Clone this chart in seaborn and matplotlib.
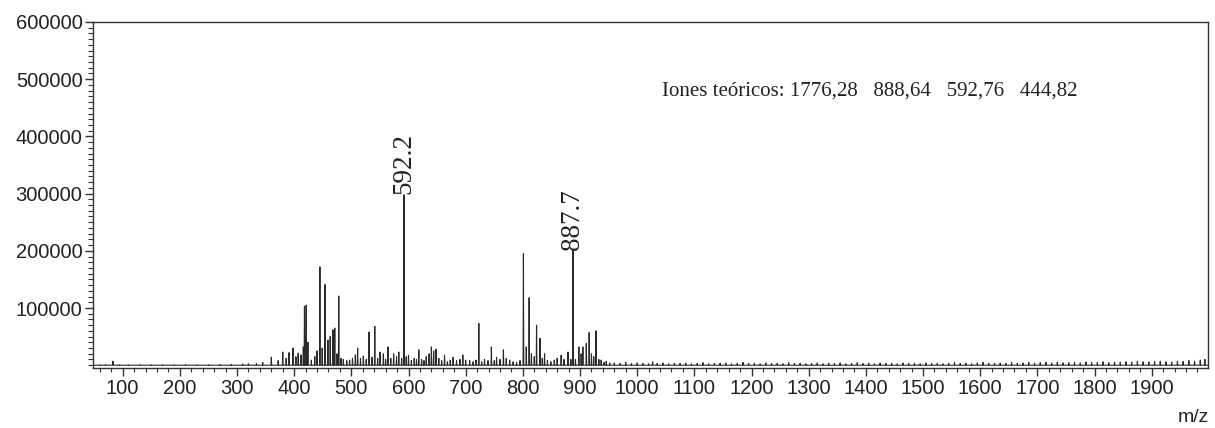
import numpy as np
import pandas as pd
import matplotlib
matplotlib.use("Agg")
import matplotlib.pyplot as plt
import seaborn as sns
from matplotlib.ticker import MultipleLocator

# ---- data (m/z, intensity) ----
peak_mz = [83, 334, 345, 360, 372, 380, 386, 391, 398, 403, 407, 412, 416, 418, 421,
           424, 430, 436, 440, 445, 449, 454, 459, 463, 468, 471, 475, 478, 482, 486,
           492, 497, 502, 507, 511, 516, 521, 526, 531, 536, 541, 546, 550, 556, 560,
           564, 569, 574, 579, 583, 588, 592.2, 596, 600, 605, 610, 614, 618, 623, 627,
           631, 636, 640, 644, 648, 653, 658, 663, 668, 673, 678, 684, 690, 695, 700,
           707, 713, 718, 723, 728, 733, 739, 745, 750, 754, 760, 766, 771, 777, 783,
           789, 795, 801, 806, 811, 815, 820, 824, 830, 834, 838, 843, 849, 855, 860,
           867, 872, 879, 884, 887.7, 892, 898, 902, 905, 911, 916, 920, 924, 928, 933,
           937, 942, 946, 952]
peak_int = [7000, 3000, 5000, 14000, 8000, 23000, 12000, 22000, 30000, 15000, 21000, 18000, 32000, 103000, 105000,
            40000, 9000, 15000, 25000, 172000, 30000, 141000, 44000, 50000, 62000, 65000, 20000, 121000, 12000, 10000,
            8000, 9000, 12000, 18000, 30000, 12000, 16000, 10000, 58000, 14000, 68000, 12000, 23000, 20000, 10000,
            32000, 12000, 20000, 15000, 23000, 12000, 298000, 15000, 17500, 8000, 12000, 10000, 27000, 10000, 8000,
            15000, 20000, 32000, 25000, 28000, 12000, 8000, 17500, 6000, 9000, 14000, 8000, 10000, 18000, 9000,
            8000, 6000, 9000, 73000, 6000, 10000, 8000, 32000, 8000, 14000, 10000, 27000, 12000, 9000, 6000,
            5000, 8000, 195000, 32000, 118000, 20000, 15000, 70000, 47000, 12000, 20000, 8000, 6000, 9000, 12000,
            17500, 10000, 23000, 10000, 200000, 10000, 32000, 20000, 32000, 38000, 57000, 20000, 15000, 60000, 10000,
            9000, 5000, 7000, 4000]

low_mz = [60, 70, 95, 110, 130, 150, 170, 190, 210, 230, 250, 270, 290, 310, 320]
low_int = [800, 1000, 1000, 800, 1000, 800, 1000, 800, 1000, 800, 1000, 1200, 1500, 2000, 2500]

noise_mz = [960, 970, 980, 990, 1000, 1010, 1020, 1027, 1035, 1045, 1055, 1065, 1075, 1085, 1095,
            1105, 1115, 1125, 1135, 1145, 1155, 1165, 1175, 1185, 1195, 1205, 1215, 1225, 1235, 1245,
            1255, 1265, 1275, 1285, 1295, 1305, 1315, 1325, 1335, 1345, 1355, 1365, 1375, 1385, 1395,
            1405, 1415, 1425, 1435, 1445, 1455, 1465, 1475, 1485, 1495, 1505, 1515, 1525, 1535, 1545,
            1555, 1565, 1575, 1585, 1595, 1605, 1615, 1625, 1635, 1645, 1655, 1665, 1675, 1685, 1695,
            1705, 1715, 1725, 1735, 1745, 1755, 1765, 1775, 1785, 1795, 1805, 1815, 1825, 1835, 1845,
            1855, 1865, 1875, 1885, 1895, 1905, 1915, 1925, 1935, 1945, 1955, 1965, 1975, 1985, 1993]
noise_int = [4000, 3000, 5000, 3000, 4000, 3000, 2500, 6000, 3000, 4000, 2500, 3500, 3000, 4000, 2500,
             3000, 4500, 2500, 3000, 3500, 4000, 2500, 3000, 5000, 3000, 3500, 2500, 4000, 3000, 3500,
             2500, 4500, 3000, 3500, 2500, 3000, 4000, 2500, 3500, 3000, 4000, 2500, 3000, 4500, 3000,
             3500, 2500, 4000, 3000, 3500, 2500, 4000, 3000, 3500, 2500, 4000, 3000, 3500, 2500, 3000,
             4500, 3000, 3500, 2500, 4000, 5000, 3000, 3500, 4000, 3000, 4500, 3500, 4000, 5000, 3500,
             4500, 5000, 4000, 5500, 4000, 4500, 5000, 4000, 5500, 4500, 5000, 6000, 4500, 5500, 5000,
             6000, 5500, 7000, 6000, 5500, 6500, 7000, 6000, 5500, 7000, 6500, 8000, 7000, 9000, 10000]

labels_mz = [592.2, 887.7]
labels_int = [298000, 200000]
label_texts = ["592.2", "887.7"]

x_ticks = [100, 200, 300, 400, 500, 600, 700, 800, 900, 1000, 1100, 1200, 1300, 1400,
           1500, 1600, 1700, 1800, 1900]
y_ticks = [100000, 200000, 300000, 400000, 500000, 600000]
annotation = "Iones teóricos: 1776,28   888,64   592,76   444,82"

# ---- build stick profile ----
all_mz = np.array(low_mz + peak_mz + noise_mz, dtype=float)
all_int = np.array(low_int + peak_int + noise_int, dtype=float)
order = np.argsort(all_mz)
all_mz, all_int = all_mz[order], all_int[order]
w = 0.6
xs, ys = [48.0], [0.0]
for m, h in zip(all_mz, all_int):
    xs += [m - w, m, m + w]
    ys += [0.0, h, 0.0]
xs.append(1998.0)
ys.append(0.0)
df = pd.DataFrame({"mz": xs, "intensity": ys})

sns.set_theme(style="white")
plt.rcParams["font.family"] = ["Liberation Sans", "DejaVu Sans"]

fig = plt.figure(figsize=(12.15, 4.28), dpi=100)
ax = fig.add_axes([0.0765, 0.14, 0.9175, 0.8086])

sns.lineplot(data=df, x="mz", y="intensity", sort=False, estimator=None,
             color="#2a2a2a", linewidth=0.8, ax=ax)

ax.set_xlim(48, 1998)
ax.set_ylim(-5000, 600000)
ax.set_xticks(x_ticks)
ax.set_xticklabels([str(t) for t in x_ticks])
ax.set_yticks(y_ticks)
ax.set_yticklabels([str(t) for t in y_ticks])
ax.xaxis.set_minor_locator(MultipleLocator(20))
ax.yaxis.set_minor_locator(MultipleLocator(10000))
ax.tick_params(axis="both", which="major", direction="out", colors="#333333",
               labelcolor="#222222", labelsize=14.5, width=1.0)
ax.tick_params(axis="x", which="major", length=6, pad=2, bottom=True)
ax.tick_params(axis="y", which="major", length=6, pad=1.5, left=True)
ax.tick_params(axis="x", which="minor", length=3, width=0.8, bottom=True, direction="out", color="#333333")
ax.tick_params(axis="y", which="minor", length=3.5, width=0.8, left=True, direction="out", color="#333333")
ax.set_xlabel("")
ax.set_ylabel("")
for s in ax.spines.values():
    s.set_visible(True)
    s.set_color("#333333")
    s.set_linewidth(1.0)

for m, h, t in zip(labels_mz, labels_int, label_texts):
    ax.text(m, h + 2000, t, rotation=90, ha="center", va="bottom",
            fontsize=19.5, family="Liberation Serif", color="#222222")

ax.text(1043, 479000, annotation, ha="left", va="center", fontsize=15,
        family="Liberation Serif", color="#222222")

fig.text(0.982, 0.025, "m/z", ha="center", va="center", fontsize=14, color="#222222")

fig.savefig("out.png", dpi=100)
